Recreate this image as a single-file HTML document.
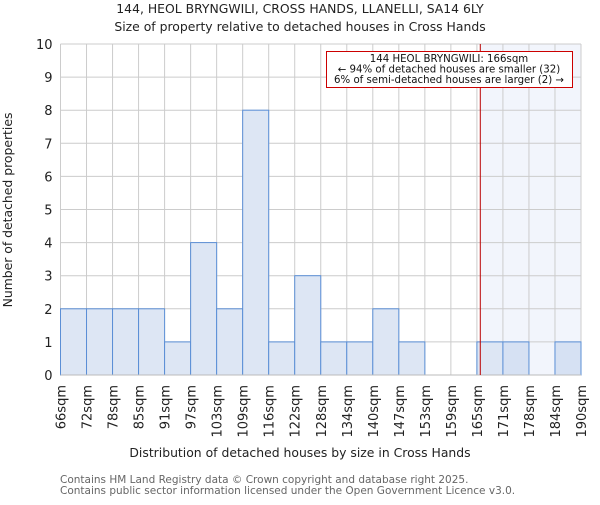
<!DOCTYPE html>
<html><head><meta charset="utf-8"><style>
body{margin:0;background:#fff;}
text{font-family:"DejaVu Sans","Liberation Sans",sans-serif;}
</style></head><body>
<svg id="chart" width="600" height="500" xmlns="http://www.w3.org/2000/svg">
<text x="300" y="13" font-size="12.4" text-anchor="middle" fill="#222">144, HEOL BRYNGWILI, CROSS HANDS, LLANELLI, SA14 6LY</text>
<text x="300" y="31" font-size="12.4" text-anchor="middle" fill="#222">Size of property relative to detached houses in Cross Hands</text>
<g id="plot"></g>
<text x="300" y="457" font-size="12.4" text-anchor="middle" fill="#222">Distribution of detached houses by size in Cross Hands</text>
<text x="12" y="210" font-size="12.4" text-anchor="middle" fill="#222" transform="rotate(-90 12 210)">Number of detached properties</text>
<text x="60" y="483" font-size="10.5" fill="#666">Contains HM Land Registry data © Crown copyright and database right 2025.</text>
<text x="60" y="494" font-size="10.5" fill="#666">Contains public sector information licensed under the Open Government Licence v3.0.</text>
</svg>
<script>
const binLabels=["66sqm","72sqm","78sqm","85sqm","91sqm","97sqm","103sqm","109sqm","116sqm","122sqm","128sqm","134sqm","140sqm","147sqm","153sqm","159sqm","165sqm","171sqm","178sqm","184sqm","190sqm"];
const counts=[2,2,2,2,1,4,2,8,1,3,1,1,2,1,0,0,1,1,0,1];
const yTicks=[0,1,2,3,4,5,6,7,8,9,10];
const markerBinPos=[16.13];
const NS="http://www.w3.org/2000/svg";
const L=60.5,R=581,T=44,B=375,yMax=10;
const bw=(R-L)/counts.length;
const xs=i=>L+i*bw;
const ys=v=>B-(v/yMax)*(B-T);
const g=document.getElementById('plot');
function mk(tag,at){const e=document.createElementNS(NS,tag);for(const k in at)e.setAttribute(k,at[k]);g.appendChild(e);return e;}
const mx=xs(markerBinPos[0]);
let e=mk('rect',{x:mx,y:T,width:R-mx,height:B-T,fill:'#f2f5fc'});


yTicks.forEach(t=>{
 let l=mk('line',{x1:L,x2:R,y1:ys(t),y2:ys(t),stroke:'#ccc','stroke-width':1});
 
 
 let tx=mk('text',{x:L-8,y:ys(t)+5,'font-size':13,'text-anchor':'end',fill:'#222'});
 tx.textContent=t;
 
 
});
binLabels.forEach((lb,i)=>{
 let l=mk('line',{x1:xs(i),x2:xs(i),y1:T,y2:B,stroke:'#ccc','stroke-width':1});
 
 
 let x=xs(i)+5,y=385;
 let tx=mk('text',{x:x,y:y,'font-size':13,'text-anchor':'end',fill:'#222',transform:`rotate(-90 ${x} ${y})`});
 tx.textContent=lb;
 
 
});
counts.forEach((c,i)=>{
 if(c<=0)return;
 let r=mk('rect',{x:xs(i),y:ys(c),width:bw,height:B-ys(c),fill:xs(i)>=mx?'#d6e1f3':'#dde6f4',stroke:'#5b8fd6','stroke-width':1});
 
 
});
let ax=mk('line',{x1:L,x2:R,y1:B,y2:B,stroke:'#bbb','stroke-width':1});


let ml=mk('line',{x1:mx,x2:mx,y1:T,y2:B,stroke:'#b00','stroke-width':1});


let box=mk('rect',{x:326.5,y:51.5,width:246,height:36,fill:'#fff',stroke:'#c00','stroke-width':1});


["144 HEOL BRYNGWILI: 166sqm","← 94% of detached houses are smaller (32)","6% of semi-detached houses are larger (2) →"].forEach((s,i)=>{
 let t=mk('text',{x:449,y:62+i*10.5,'font-size':10.2,'text-anchor':'middle',fill:'#111'});
 t.textContent=s;
 
 
});
</script>
</body></html>
